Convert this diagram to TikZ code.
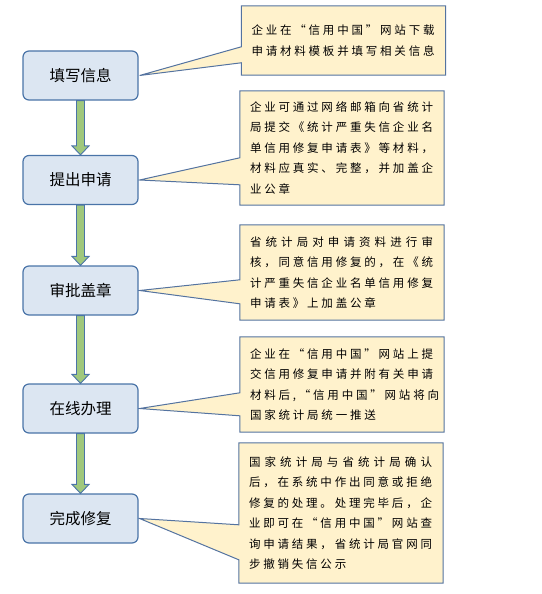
\documentclass[tikz,border=0pt]{standalone}
\usepackage{fontspec}
\usetikzlibrary{calc,backgrounds}
\newfontfamily\cjk{Noto Sans CJK SC}
\definecolor{stepfill}{RGB}{220,230,242}
\definecolor{stepline}{RGB}{74,116,168}
\definecolor{notefill}{RGB}{255,242,204}
\definecolor{noteline}{RGB}{84,115,160}
\definecolor{arrowfill}{RGB}{160,200,125}
\makeatletter
\newcommand\wideline[1]{\leavevmode\hbox to 183pt{\@tfor\ch:=#1\do{\ch\hskip 2.8pt plus 1fil}\unskip}}
\newcommand\shortline[1]{\leavevmode\hbox{\@tfor\ch:=#1\do{\ch\hskip 2.8pt}}}
\makeatother

\begin{document}
\begin{tikzpicture}[x=1pt,y=-1pt,
  stepbox/.style={draw=stepline,line width=1.2pt,fill=stepfill,rounded corners=6pt,
    minimum width=115pt,minimum height=49pt,inner sep=0pt,
    font=\cjk\fontsize{15.5pt}{18pt}\selectfont},
  note/.style={minimum width=204pt,inner sep=0pt,text width=184pt,align=left,
    font=\cjk\fontsize{11.5pt}{20.5pt}\selectfont},
  notebox/.style={draw=noteline,line width=1pt,fill=notefill,line join=miter},
  fat/.style={draw=stepline,line width=0.9pt,fill=arrowfill}]
  \useasboundingbox (0,0) rectangle (541,594);

  \node[stepbox] (s1) at (80.5,75.5) {填写信息};
  \node[stepbox] (s2) at (80.5,180) {提出申请};
  \node[stepbox] (s3) at (80.5,290.5) {审批盖章};
  \node[stepbox] (s4) at (80.5,408.5) {在线办理};
  \node[stepbox] (s5) at (80.5,518.5) {完成修复};

  \foreach \a/\b in {s1/s2,s2/s3,s3/s4,s4/s5}
    \draw[fat] ($(\a.south)+(-4,0)$) -- ($(\b.north)+(-4,-9)$)
      -- ($(\b.north)+(-8.5,-9)$) -- (\b.north) -- ($(\b.north)+(8.5,-9)$)
      -- ($(\b.north)+(4,-9)$) -- ($(\a.south)+(4,0)$) -- cycle;

  \node[note,minimum height=69pt] (n1) at (343.5,40.5)
    {\wideline{企业在“信用中国”网站下载}\\
     \wideline{申请材料模板并填写相关信息}};
  \node[note,minimum height=114pt] (n2) at (342,148)
    {\wideline{企业可通过网络邮箱向省统计}\\
     \wideline{局提交《统计严重失信企业名}\\
     \wideline{单信用修复申请表》等材料，}\\
     \wideline{材料应真实、完整，并加盖企}\\
     \shortline{业公章}};
  \node[note,minimum height=95pt] (n3) at (342,272.5)
    {\wideline{省统计局对申请资料进行审}\\
     \wideline{核，同意信用修复的，在《统}\\
     \wideline{计严重失信企业名单信用修复}\\
     \shortline{申请表》上加盖公章}};
  \node[note,minimum height=95pt] (n4) at (342,384.5)
    {\wideline{企业在“信用中国”网站上提}\\
     \wideline{交信用修复申请并附有关申请}\\
     \wideline{材料后,“信用中国”网站将向}\\
     \shortline{国家统计局统一推送}};
  \node[note,minimum height=140pt] (n5) at (341,513)
    {\wideline{国家统计局与省统计局确认}\\
     \wideline{后，在系统中作出同意或拒绝}\\
     \wideline{修复的处理。处理完毕后，企}\\
     \wideline{业即可在“信用中国”网站查}\\
     \wideline{询申请结果，省统计局官网同}\\
     \shortline{步撤销失信公示}};

  \begin{scope}[on background layer]
    \foreach \n/\s/\ya/\yb in {n1/s1/41/57,n2/s2/67/94,n3/s3/55/79,n4/s4/56/79,n5/s5/82/117}
      \draw[notebox] (\n.north west) -- (\n.north east) -- (\n.south east)
        -- (\n.south west) -- ($(\n.north west)+(0,\yb)$) -- ($(\s.east)+(1,0)$)
        -- ($(\n.north west)+(0,\ya)$) -- cycle;
  \end{scope}
\end{tikzpicture}
\end{document}
